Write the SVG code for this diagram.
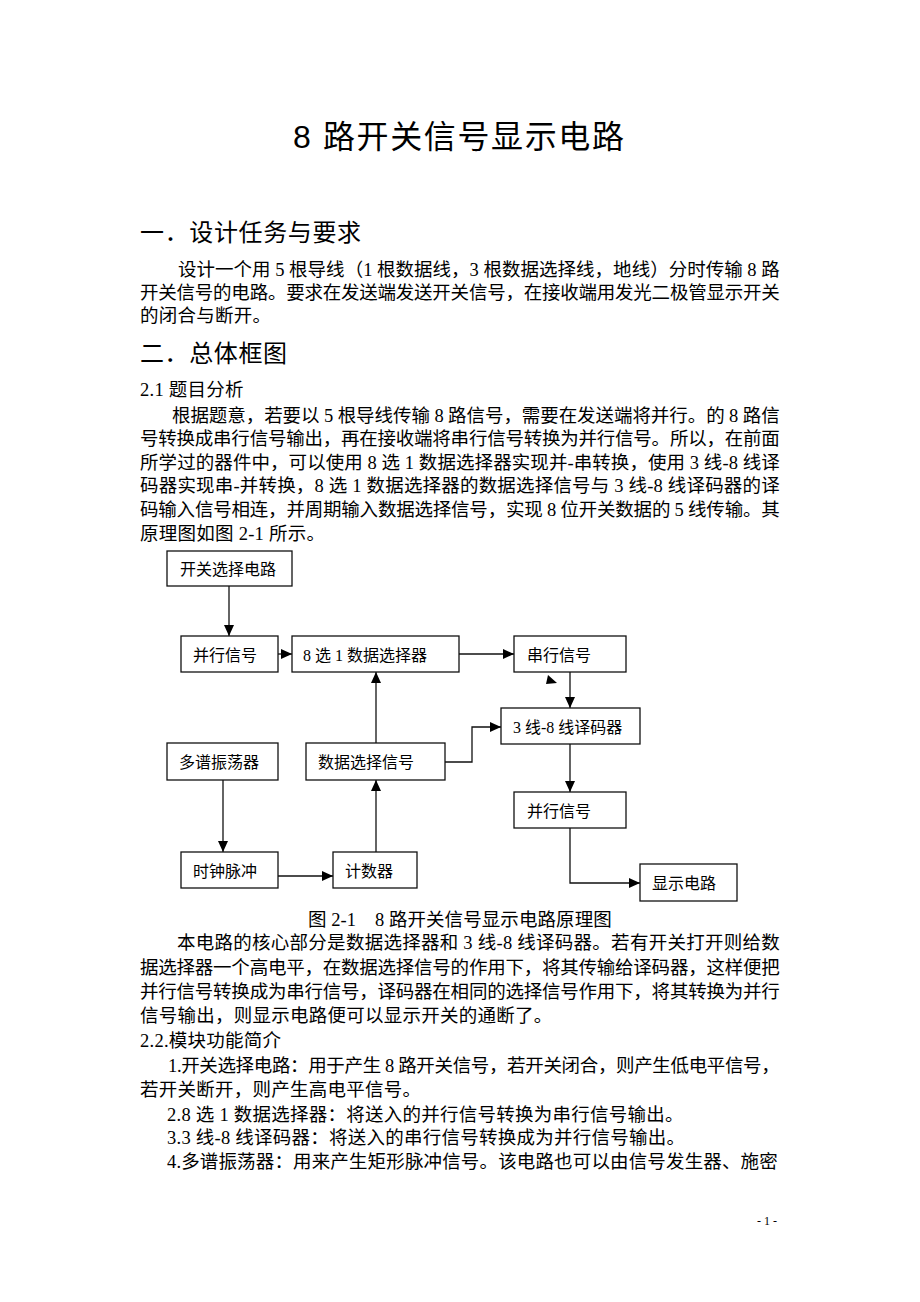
<svg xmlns="http://www.w3.org/2000/svg" width="920" height="1302" viewBox="0 0 920 1302">
<style>
.title{font-family:"Liberation Sans","Noto Sans CJK SC",sans-serif;font-size:32px;fill:#000}
.h{font-family:"Liberation Sans","Noto Sans CJK SC",sans-serif;font-size:24px;fill:#000}
.b{font-family:"Liberation Serif","Noto Sans CJK SC",serif;font-size:18.5px;fill:#000;letter-spacing:0.25px}
.pg{font-family:"Liberation Serif","Noto Sans CJK SC",serif;font-size:12px;fill:#000}
.box{fill:#fff;stroke:#111;stroke-width:1.3}
.lbl{font-family:"Liberation Serif","Noto Sans CJK SC",serif;font-size:16px;fill:#000}
.con{fill:none;stroke:#111;stroke-width:1.3}
</style>
<defs>
<marker id="arr" markerUnits="userSpaceOnUse" markerWidth="11" markerHeight="10" refX="11" refY="5" orient="auto">
<path d="M0,0 L11,5 L0,10 Z" fill="#000"/>
</marker>
</defs>
<rect width="920" height="1302" fill="#fff"/>

<g id="text">
<text class="title" x="293" y="147.5" textLength="331" lengthAdjust="spacing">8 路开关信号显示电路</text>
<text class="h" x="140" y="241" textLength="221" lengthAdjust="spacing">一．设计任务与要求</text>
<text class="b" x="178" y="275.5" textLength="602" lengthAdjust="spacing">设计一个用 5 根导线（1 根数据线，3 根数据选择线，地线）分时传输 8 路</text>
<text class="b" x="140" y="298.5" textLength="640" lengthAdjust="spacing">开关信号的电路。要求在发送端发送开关信号，在接收端用发光二极管显示开关</text>
<text class="b" x="140" y="321.5">的闭合与断开。</text>
<text class="h" x="140" y="362" textLength="147" lengthAdjust="spacing">二．总体框图</text>
<text class="b" x="140" y="395.5">2.1 题目分析</text>
<text class="b" x="172" y="421.5" textLength="608" lengthAdjust="spacing">根据题意，若要以 5 根导线传输 8 路信号，需要在发送端将并行。的 8 路信</text>
<text class="b" x="140" y="445" textLength="640" lengthAdjust="spacing">号转换成串行信号输出，再在接收端将串行信号转换为并行信号。所以，在前面</text>
<text class="b" x="140" y="468.5" textLength="640" lengthAdjust="spacing">所学过的器件中，可以使用 8 选 1 数据选择器实现并-串转换，使用 3 线-8 线译</text>
<text class="b" x="140" y="492" textLength="640" lengthAdjust="spacing">码器实现串-并转换，8 选 1 数据选择器的数据选择信号与 3 线-8 线译码器的译</text>
<text class="b" x="140" y="515.5" textLength="640" lengthAdjust="spacing">码输入信号相连，并周期输入数据选择信号，实现 8 位开关数据的 5 线传输。其</text>
<text class="b" x="140" y="539.5">原理图如图 2-1 所示。</text>
<text class="b" x="308" y="926" textLength="304" lengthAdjust="spacing">图 2-1&#160;&#160;&#160;&#160;8 路开关信号显示电路原理图</text>
<text class="b" x="177" y="949" textLength="603" lengthAdjust="spacing">本电路的核心部分是数据选择器和 3 线-8 线译码器。若有开关打开则给数</text>
<text class="b" x="140" y="973.5" textLength="640" lengthAdjust="spacing">据选择器一个高电平，在数据选择信号的作用下，将其传输给译码器，这样便把</text>
<text class="b" x="140" y="997.5" textLength="640" lengthAdjust="spacing">并行信号转换成为串行信号，译码器在相同的选择信号作用下，将其转换为并行</text>
<text class="b" x="140" y="1021.5">信号输出，则显示电路便可以显示开关的通断了。</text>
<text class="b" x="140" y="1046.5">2.2.模块功能简介</text>
<text class="b" x="168" y="1071.5" textLength="612" lengthAdjust="spacing">1.开关选择电路：用于产生 8 路开关信号，若开关闭合，则产生低电平信号，</text>
<text class="b" x="140" y="1095.5">若开关断开，则产生高电平信号。</text>
<text class="b" x="167" y="1120.5">2.8 选 1 数据选择器：将送入的并行信号转换为串行信号输出。</text>
<text class="b" x="167" y="1144">3.3 线-8 线译码器：将送入的串行信号转换成为并行信号输出。</text>
<text class="b" x="167" y="1167.5" textLength="611" lengthAdjust="spacing">4.多谱振荡器：用来产生矩形脉冲信号。该电路也可以由信号发生器、施密</text>
<text class="pg" x="757" y="1225">- 1 -</text>
</g>

<g id="connectors">
<line class="con" x1="229" y1="586" x2="229" y2="636" marker-end="url(#arr)"/>
<line class="con" x1="278" y1="654" x2="292" y2="654" marker-end="url(#arr)"/>
<line class="con" x1="459" y1="654" x2="514" y2="654" marker-end="url(#arr)"/>
<line class="con" x1="570" y1="672" x2="570" y2="708" marker-end="url(#arr)"/>
<polyline class="con" points="445,762 472,762 472,727 501,727" marker-end="url(#arr)"/>
<line class="con" x1="376" y1="743" x2="376" y2="672" marker-end="url(#arr)"/>
<line class="con" x1="570" y1="744" x2="570" y2="792" marker-end="url(#arr)"/>
<polyline class="con" points="570,828 570,883 640,883" marker-end="url(#arr)"/>
<line class="con" x1="223" y1="780" x2="223" y2="852" marker-end="url(#arr)"/>
<line class="con" x1="278" y1="876" x2="333" y2="876" marker-end="url(#arr)"/>
<line class="con" x1="376" y1="852" x2="376" y2="780" marker-end="url(#arr)"/>
<polygon points="548,675 557,683 546,684" fill="#000"/>
</g>

<g id="n-switch"><rect class="box" x="167" y="551" width="125" height="35"/><text class="lbl" x="180" y="575">开关选择电路</text></g>
<g id="n-parallel-in"><rect class="box" x="181" y="636" width="97" height="36"/><text class="lbl" x="193" y="660.5">并行信号</text></g>
<g id="n-mux"><rect class="box" x="292" y="636" width="167" height="36"/><text class="lbl" x="303" y="660.5">8 选 1 数据选择器</text></g>
<g id="n-serial"><rect class="box" x="514" y="636" width="112" height="36"/><text class="lbl" x="527" y="660.5">串行信号</text></g>
<g id="n-decoder"><rect class="box" x="501" y="708" width="139" height="36"/><text class="lbl" x="513" y="732.5">3 线-8 线译码器</text></g>
<g id="n-osc"><rect class="box" x="167" y="743" width="111" height="37"/><text class="lbl" x="179" y="768">多谱振荡器</text></g>
<g id="n-select"><rect class="box" x="306" y="743" width="139" height="37"/><text class="lbl" x="318" y="768">数据选择信号</text></g>
<g id="n-parallel-out"><rect class="box" x="514" y="792" width="112" height="36"/><text class="lbl" x="527" y="816.5">并行信号</text></g>
<g id="n-clock"><rect class="box" x="181" y="852" width="97" height="36"/><text class="lbl" x="193" y="876.5">时钟脉冲</text></g>
<g id="n-counter"><rect class="box" x="333" y="852" width="84" height="36"/><text class="lbl" x="345" y="876.5">计数器</text></g>
<g id="n-display"><rect class="box" x="640" y="864" width="97" height="37"/><text class="lbl" x="652" y="889">显示电路</text></g>
</svg>
